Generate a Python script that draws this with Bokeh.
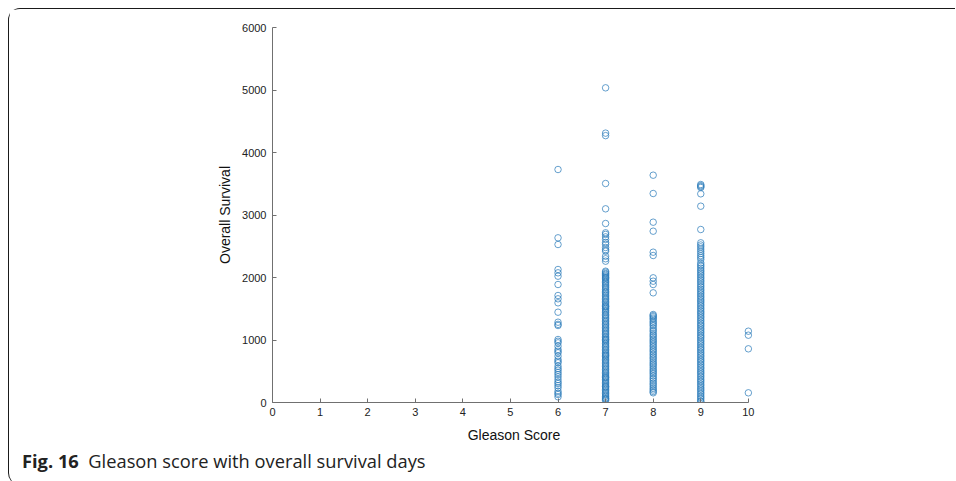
from bokeh.plotting import figure
from bokeh.models import ColumnDataSource, FixedTicker, Div
from bokeh.layouts import column
from bokeh.embed import file_html
from bokeh.resources import INLINE

# ---- data ----
gleason_scores = [6, 7, 8, 9, 10]

survival_g6 = [3728, 2635, 2528, 2128, 2075, 2021, 1888, 1712, 1659, 1595, 1445, 1285, 1250,
               1232, 1008, 980, 955, 901, 848, 820, 795, 741, 688, 660, 635, 581, 545, 517,
               480, 448, 410, 368, 330, 304, 270, 235, 181, 150, 128, 91]

survival_g7 = [5035, 4310, 4270, 3504, 3099, 2864, 2715, 2690, 2650, 2610, 2560, 2530, 2480,
               2445, 2421, 2341, 2300, 2261,
               2101, 2085, 2064, 2050, 2031, 2010, 1995, 1988, 1962, 1940, 1921, 1897, 1876,
               1850, 1832, 1805, 1780, 1762, 1738, 1715, 1690, 1668, 1645, 1620, 1598, 1575,
               1550, 1531, 1530, 1505, 1480, 1462, 1436, 1410, 1390, 1366, 1342, 1318, 1295,
               1270, 1248, 1225, 1200, 1178, 1155, 1130, 1108, 1085, 1060, 1038, 1015, 1010,
               990, 968, 945, 920, 898, 875, 850, 828, 805, 782, 760, 757, 735, 712, 690, 668,
               645, 620, 598, 575, 552, 530, 505, 482, 460, 438, 415, 400, 392, 370, 346, 324,
               300, 278, 255, 250, 232, 210, 188, 165, 142, 120, 98, 75, 60, 52, 30]

survival_g8 = [3637, 3344, 2885, 2741, 2405, 2352, 1995, 1941, 1888, 1755,
               1408, 1390, 1372, 1350, 1330, 1300, 1275, 1250, 1225, 1190, 1160, 1135, 1100,
               1075, 1050, 1020, 995, 970, 945, 915, 890, 860, 835, 810, 780, 755, 725, 700,
               670, 640, 615, 590, 560, 530, 505, 480, 455, 425, 395, 370, 340, 310, 285, 255,
               225, 200, 175, 155]

survival_g9 = [3488, 3470, 3455, 3440, 3339, 3141, 2768, 2555, 2520, 2490, 2455, 2420, 2385,
               2350, 2320, 2288,
               2235, 2205, 2180, 2150, 2120, 2095, 2065, 2040, 2010, 1985, 1955, 1930, 1900,
               1870, 1845, 1815, 1790, 1760, 1735, 1705, 1680, 1650, 1625, 1600, 1570, 1545,
               1515, 1490, 1460, 1435, 1410, 1380, 1355, 1325, 1300, 1270, 1245, 1220, 1190,
               1165, 1135, 1110, 1080, 1055, 1030, 1000, 975, 945, 920, 890, 865, 840, 810,
               785, 755, 730, 700, 675, 650, 620, 595, 565, 540, 510, 485, 460, 430, 405, 375,
               350, 325, 295, 270, 240, 215, 190, 160, 135, 105, 80, 55, 25, 10]

survival_g10 = [1141, 1077, 859, 155]

x_ticks = [0, 1, 2, 3, 4, 5, 6, 7, 8, 9, 10]
y_ticks = [0, 1000, 2000, 3000, 4000, 5000, 6000]

caption_bold = "Fig. 16"
caption_text = "Gleason score with overall survival days"

# ---- build table ----
groups = [survival_g6, survival_g7, survival_g8, survival_g9, survival_g10]
xs, ys = [], []
for score, vals in zip(gleason_scores, groups):
    xs.extend([score] * len(vals))
    ys.extend(vals)
src = ColumnDataSource(dict(score=xs, survival=ys))

p = figure(width=946, height=440, x_range=(0, 10.15), y_range=(0, 6000),
           output_backend="svg", toolbar_location=None,
           min_border_left=263, min_border_right=200,
           min_border_top=18, min_border_bottom=47)
p.outline_line_color = None
p.grid.visible = False
p.background_fill_color = "white"
p.border_fill_color = "white"

p.scatter("score", "survival", source=src, marker="circle", size=6.5,
          fill_color=None, line_color="#2b7bba", line_alpha=0.72, line_width=1)

for ax in (p.xaxis[0], p.yaxis[0]):
    ax.axis_line_color = "#707070"
    ax.major_tick_line_color = "#707070"
    ax.major_tick_in = 4
    ax.major_tick_out = 0
    ax.minor_tick_line_color = None
    ax.major_label_text_font = "Liberation Sans"
    ax.major_label_text_font_size = "11px"
    ax.major_label_text_color = "#222222"
    ax.axis_label_text_font = "Liberation Sans"
    ax.axis_label_text_font_size = "14px"
    ax.axis_label_text_font_style = "normal"
    ax.axis_label_text_color = "#111111"

p.xaxis[0].ticker = FixedTicker(ticks=x_ticks)
p.xaxis[0].bounds = (0, 10)
p.yaxis[0].ticker = FixedTicker(ticks=y_ticks)
p.xaxis[0].axis_label = "Gleason Score"
p.yaxis[0].axis_label = "Overall Survival"
p.xaxis[0].major_label_standoff = 5
p.yaxis[0].major_label_standoff = 6
p.xaxis[0].axis_label_standoff = 8
p.yaxis[0].axis_label_standoff = 6

caption = Div(text=f"<b>{caption_bold}</b>&nbsp;&nbsp;{caption_text}",
              width=900, height=26,
              styles={"font-family": "'Open Sans', sans-serif", "font-size": "18.3px",
                      "color": "#222222", "padding-left": "8px", "line-height": "14px"})

layout = column(p, caption,
                styles={"margin-left": "8px", "margin-top": "8px",
                        "border-top": "1.5px solid #1a1a1a",
                        "border-left": "1.5px solid #1a1a1a",
                        "border-top-left-radius": "12px",
                        "border-bottom-left-radius": "12px",
                        "background-color": "white"})

open("out.html", "w").write(file_html(layout, INLINE))
